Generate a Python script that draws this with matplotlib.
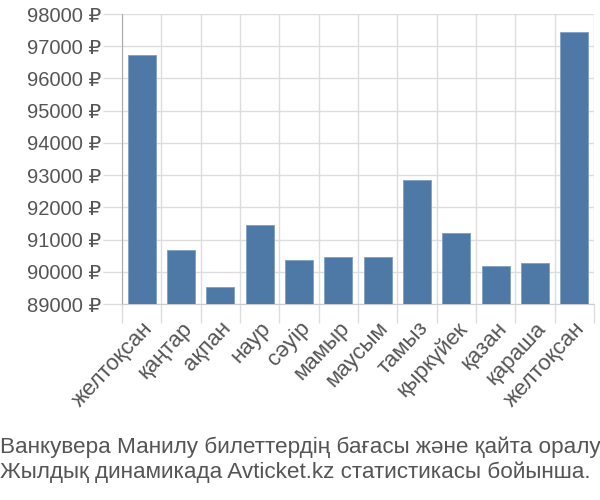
import matplotlib
matplotlib.use("Agg")
import matplotlib.pyplot as plt
import numpy as np

months = ["желтоқсан", "қаңтар", "ақпан", "наур", "сәуір", "мамыр",
          "маусым", "тамыз", "қыркүйек", "қазан", "қараша", "желтоқсан"]
prices = [96720, 90670, 89540, 91460, 90370, 90450, 90450, 92850,
          91190, 90180, 90260, 97450]
yticks = list(range(89000, 98001, 1000))
caption = ["Ванкувера Манилу билеттердің бағасы және қайта оралу",
           "Жылдық динамикада Avticket.kz статистикасы бойынша."]

fam = ["Liberation Sans", "DejaVu Sans"]
plt.rcParams["font.family"] = fam

fig = plt.figure(figsize=(6, 5), dpi=100)
ax = fig.add_axes([122/600, 1-304/500, 472/600, 290/500])

x = np.arange(len(months))
ax.bar(x, prices, width=0.72, color="#4e79a7", edgecolor="#7f9fc4", linewidth=0.6,
       bottom=0, zorder=3)
ax.set_xlim(-0.5, len(months)-0.5)
ax.set_ylim(89000, 98000)
ax.set_yticks(yticks)
ax.set_yticklabels([f"{v} ₽" for v in yticks], fontsize=14.5, color="#555555")
ax.tick_params(axis="y", length=14, color="#dddddd", width=1, pad=1)

ax.set_xticks(x)
ax.set_xticklabels(months, rotation=47, ha="right", va="top",
                   rotation_mode="anchor", fontsize=16, color="#555555")
ax.set_xticks(np.arange(-0.5, len(months)), minor=True)
ax.tick_params(axis="x", which="major", length=0, pad=10)
ax.tick_params(axis="x", which="minor", length=14, color="#dddddd", width=1)

ax.grid(axis="y", color="#dddddd", linewidth=1, zorder=0)
ax.grid(axis="x", which="minor", color="#dddddd", linewidth=1, zorder=0)
for s in ["top", "right"]:
    ax.spines[s].set_visible(False)
ax.spines["left"].set_color("#aaaaaa")
ax.spines["left"].set_bounds(89000, 98000)
ax.spines["bottom"].set_color("#cccccc")

capfam = ["Liberation Sans Narrow", "Liberation Sans", "DejaVu Sans"]
fig.text(0.0, 1-447/500, caption[0], fontsize=16.2, color="#555555",
         family=capfam, ha="left", va="center")
fig.text(0.0, 1-472/500, caption[1], fontsize=16.2, color="#555555",
         family=capfam, ha="left", va="center")

fig.savefig("out.png", dpi=100)
